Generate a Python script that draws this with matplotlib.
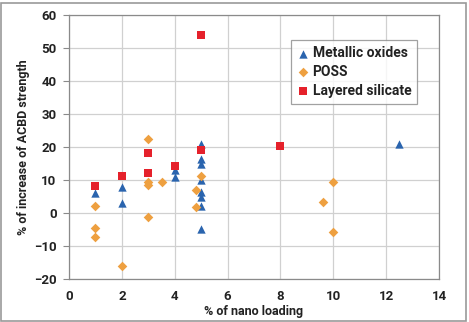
import matplotlib
matplotlib.use("Agg")
import matplotlib.pyplot as plt
from matplotlib.patches import Rectangle

# Data
metal_x = [1, 2, 2, 4, 4, 5, 5, 5, 5, 5, 5, 5, 5, 12.5]
metal_y = [6, 8, 3, 13, 11, 21, 16.5, 15, 10, 6.5, 5, 2, -4.7, 21]
poss_x = [1, 1, 1, 2, 3, 3, 3, 3, 3.5, 4.8, 4.8, 5, 9.6, 10, 10]
poss_y = [2, -4.5, -7.2, -16.2, 22.3, 9.4, 8.4, -1.3, 9.5, 6.9, 1.9, 11.3, 3.4, 9.5, -5.8]
sil_x = [1, 2, 3, 3, 4, 5, 5, 8]
sil_y = [8.3, 11.2, 18.2, 12.1, 14.2, 54, 19.1, 20.2]

xticks = [0, 2, 4, 6, 8, 10, 12, 14]
yticks = [-20, -10, 0, 10, 20, 30, 40, 50, 60]

plt.rcParams['font.family'] = ['Roboto', 'DejaVu Sans']
plt.rcParams['font.weight'] = 'bold'
W, H = 469, 322
fig = plt.figure(figsize=(W / 100, H / 100), dpi=100)
ax = fig.add_axes([69 / W, 1 - 279 / H, (439 - 69) / W, (279 - 15) / H])

grid_c = '#d0d0d0'
ax.set_axisbelow(True)
ax.grid(True, color=grid_c, linewidth=0.9)

ax.scatter(metal_x, metal_y, marker='^', s=36, color='#2a64ae', label='Metallic oxides', zorder=3, linewidths=0)
ax.scatter(poss_x, poss_y, marker='D', s=24, color='#eea040', label='POSS', zorder=3, linewidths=0)
ax.scatter(sil_x, sil_y, marker='s', s=32, color='#e5212b', label='Layered silicate', zorder=3, linewidths=0)

ax.set_xlim(0, 14)
ax.set_ylim(-20, 60)
ax.set_xticks(xticks)
ax.set_yticks(yticks)
for s in ax.spines.values():
    s.set_color('#8a8a8a')
    s.set_linewidth(0.9)
ax.tick_params(axis='both', colors='#8a8a8a', length=4, width=0.8, labelcolor='#222222', labelsize=9.5)
ax.tick_params(axis='y', pad=5)
ax.tick_params(axis='x', length=0, pad=8)

ax.set_xlabel('% of nano loading', fontsize=9, fontweight='bold', color='#222222', labelpad=1)
ax.set_ylabel('% of increase of ACBD strength', fontsize=9, fontweight='bold', color='#222222', labelpad=3)

leg = ax.legend(loc='upper left', bbox_to_anchor=((291 - 69) / 370, 1 - (40 - 15) / 264),
                frameon=True, fancybox=False, edgecolor='#8a8a8a',
                prop={'size': 10, 'weight': 'bold'},
                handlelength=0.8, handletextpad=0.3, borderpad=0.45, labelspacing=0.35,
                borderaxespad=0)
leg.get_frame().set_linewidth(0.9)
for t in leg.get_texts():
    t.set_color('#222222')

# outer figure frame
fig.patches.append(Rectangle((1 / W, 1 / H), (W - 4) / W, (H - 4) / H, transform=fig.transFigure,
                             fill=False, edgecolor='#9a9a9a', linewidth=1.2))

fig.savefig('out.png', dpi=100)
